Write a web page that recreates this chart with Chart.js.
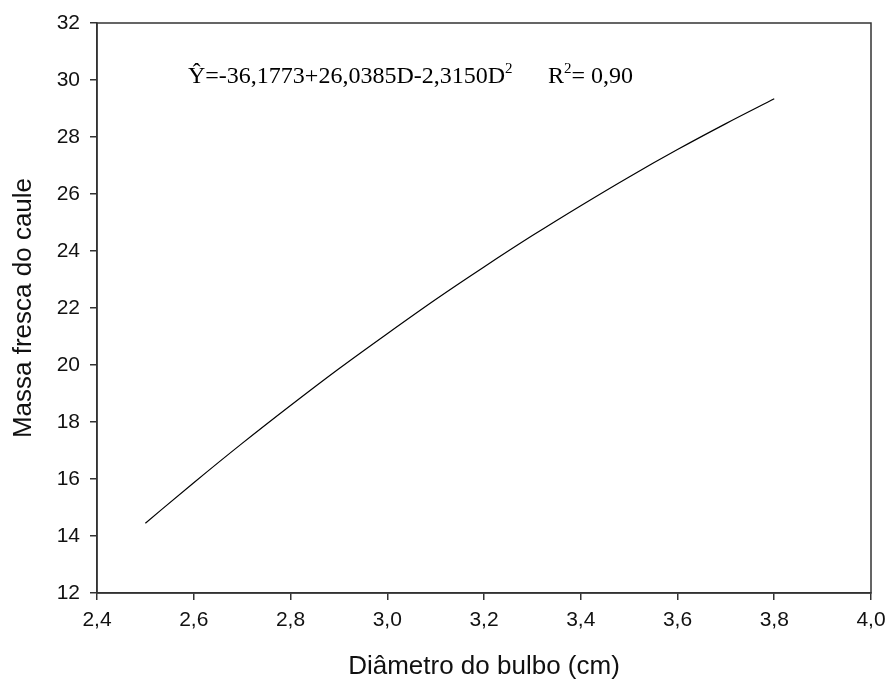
<!DOCTYPE html>
<html>
<head>
<meta charset="utf-8">
<title>Massa fresca do caule</title>
<script src="https://cdn.jsdelivr.net/npm/chart.js@4.4.0/dist/chart.umd.min.js"></script>
<style>
  html, body { margin: 0; padding: 0; background: #fff; }
  #wrap { width: 890px; height: 687px; position: relative; }
</style>
</head>
<body>
<div id="wrap"><canvas id="chart"></canvas></div>
<script>
// fitted curve, sampled every 0,1 cm
const diametro = [2.5, 2.6, 2.7, 2.8, 2.9, 3.0, 3.1, 3.2, 3.3, 3.4, 3.5, 3.6, 3.7, 3.8];
const massa = [14.45, 15.87, 17.25, 18.58, 19.87, 21.10, 22.30, 23.44, 24.54, 25.59, 26.60, 27.56, 28.47, 29.34];

const xTicks = [2.4, 2.6, 2.8, 3.0, 3.2, 3.4, 3.6, 3.8, 4.0];
const yTicks = [12, 14, 16, 18, 20, 22, 24, 26, 28, 30, 32];

// equation text pieces: [text, superscript?]
const equacao = [['Ŷ=-36,1773+26,0385D-2,3150D', false], ['2', true]];
const r2 = [['R', false], ['2', true], ['= 0,90', false]];

const sans = '"Liberation Sans", Arial, sans-serif';
const serif = '"Liberation Serif", "Times New Roman", serif';
const axisColor = '#333';

function virgula(v, casas) {
    return Number(v).toFixed(casas).replace('.', ',');
}

function drawPieces(ctx, pieces, x, y) {
    pieces.forEach(([txt, sup]) => {
        ctx.font = sup ? '15px ' + serif : '24px ' + serif;
        ctx.fillText(txt, x, sup ? y - 10 : y);
        x += ctx.measureText(txt).width;
    });
}

const boxAndText = {
    id: 'boxAndText',
    afterDraw(chart) {
        const { ctx, chartArea: a } = chart;
        ctx.save();
        ctx.strokeStyle = axisColor;
        ctx.lineWidth = 1.5;
        ctx.strokeRect(a.left, a.top, a.right - a.left, a.bottom - a.top);

        ctx.fillStyle = '#000';
        ctx.textBaseline = 'alphabetic';
        drawPieces(ctx, equacao, 188, 83);
        drawPieces(ctx, r2, 548, 83);
        ctx.restore();
    }
};

new Chart(document.getElementById('chart'), {
    type: 'scatter',
    data: {
        datasets: [{
            data: diametro.map((d, i) => ({ x: d, y: massa[i] })),
            showLine: true,
            borderColor: '#000',
            borderWidth: 1.2,
            pointRadius: 0,
            cubicInterpolationMode: 'monotone'
        }]
    },
    options: {
        responsive: true,
        maintainAspectRatio: false,
        animation: false,
        layout: { padding: { top: 23, right: 19, left: 0, bottom: 0 } },
        plugins: {
            legend: { display: false },
            tooltip: { enabled: false }
        },
        scales: {
            x: {
                type: 'linear',
                min: 2.4,
                max: 4.0,
                afterBuildTicks: s => { s.ticks = xTicks.map(v => ({ value: v })); },
                afterFit: s => { s.height = 94; s.paddingLeft = 0; s.paddingRight = 0; },
                ticks: {
                    callback: v => virgula(v, 1),
                    font: { family: sans, size: 21 },
                    color: '#111',
                    padding: 8,
                    maxRotation: 0
                },
                grid: { drawOnChartArea: false, drawTicks: true, tickLength: 7, color: axisColor, lineWidth: 1.5 },
                border: { display: true, color: axisColor, width: 1.5 },
                title: {
                    display: true,
                    text: 'Diâmetro do bulbo (cm)',
                    font: { family: sans, size: 26 },
                    color: '#111',
                    padding: { top: 0, bottom: 5 }
                }
            },
            y: {
                min: 12,
                max: 32,
                afterBuildTicks: s => { s.ticks = yTicks.map(v => ({ value: v })); },
                afterFit: s => { s.width = 97; s.paddingTop = 0; s.paddingBottom = 0; },
                ticks: {
                    callback: v => virgula(v, 0),
                    font: { family: sans, size: 21 },
                    color: '#111',
                    padding: 10
                },
                grid: { drawOnChartArea: false, drawTicks: true, tickLength: 7, color: axisColor, lineWidth: 1.5 },
                border: { display: true, color: axisColor, width: 1.5 },
                title: {
                    display: true,
                    text: 'Massa fresca do caule',
                    font: { family: sans, size: 26 },
                    color: '#111',
                    padding: { top: 8, bottom: 0 }
                }
            }
        }
    },
    plugins: [boxAndText]
});
</script>
</body>
</html>
